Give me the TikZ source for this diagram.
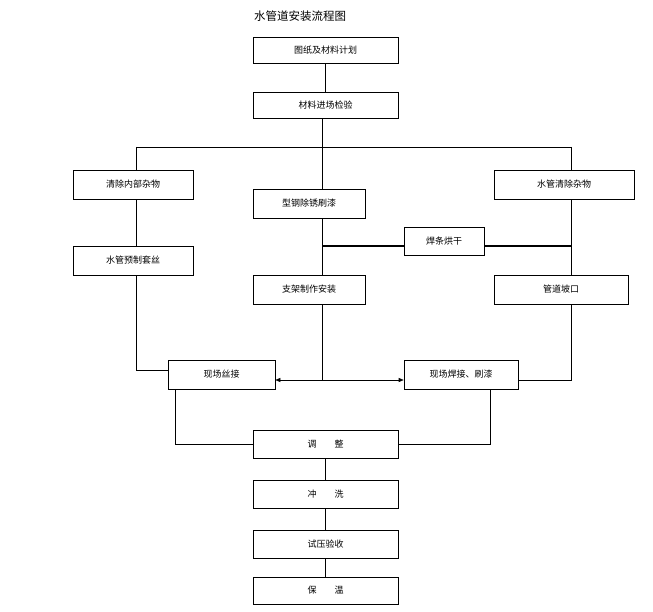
\documentclass[tikz,border=0pt]{standalone}
\usepackage{fontspec}
\newfontfamily\cjk{Noto Sans CJK SC}
\usetikzlibrary{arrows.meta}
\begin{document}
\begin{tikzpicture}[x=1pt,y=-1pt,
  box/.style={draw,line width=0.6pt,inner sep=0pt,font=\cjk\fontsize{9}{11}\selectfont},
  ln/.style={line width=0.6pt}]
\useasboundingbox (0,0) rectangle (653,612);
\newcommand\bx[6]{\node[box,minimum width=#4-#2,minimum height=#5-#3] (#1) at ({(#2+#4)/2},{(#3+#5)/2}) {#6};}
\node[font=\cjk\fontsize{11.5}{13}\selectfont] (title) at (300,16) {水管道安装流程图};
\bx{a}{253}{37}{398}{63}{图纸及材料计划}
\bx{b}{253}{92}{398}{118}{材料进场检验}
\bx{c}{73}{170}{193}{199}{清除内部杂物}
\bx{d}{494}{170}{634}{199}{水管清除杂物}
\bx{e}{253}{189}{365}{218}{型钢除锈刷漆}
\bx{f}{404}{227}{484}{255}{焊条烘干}
\bx{g}{73}{246}{193}{275}{水管预制套丝}
\bx{h}{253}{275}{365}{304}{支架制作安装}
\bx{i}{494}{275}{628}{304}{管道坡口}
\bx{j}{168}{360}{275}{389}{现场丝接}
\bx{k}{404}{360}{518}{389}{现场焊接、刷漆}
\bx{l}{253}{430}{398}{458}{调\hspace{2em}整}
\bx{m}{253}{480}{398}{508}{冲\hspace{2em}洗}
\bx{n}{253}{530}{398}{558}{试压验收}
\bx{o}{253}{577}{398}{604}{保\hspace{2em}温}
\coordinate (L) at (136,147); \coordinate (R) at (571,147);
\coordinate (M) at (322,147); \coordinate (Mw) at (322,246);
\coordinate (Rw) at (571,246); \coordinate (Mj) at (322,380);
\draw[ln] (a) -- (b);
\draw[ln] (b.south -| M) -- (M) (L) -- (R);
\draw[ln] (L) -- (c.north -| L);
\draw[ln] (R) -- (d.north -| R);
\draw[ln] (M) -- (e.north -| M);
\draw[ln] (c.south -| L) -- (g.north -| L);
\draw[ln] (e.south -| M) -- (h.north -| M);
\draw[ln] (d.south -| R) -- (i.north -| R);
\draw[line width=1.2pt] (Mw) -- (f.west |- Mw) (f.east |- Rw) -- (Rw);
\draw[ln] (g.south -| L) |- (j.west |- 0,370);
\draw[ln] (i.south -| R) |- (k.east |- 0,380);
\draw[ln] (h.south -| M) -- (Mj);
\draw[ln,{Triangle[length=5pt,width=4pt]}-{Triangle[length=5pt,width=4pt]}] (j.east |- Mj) -- (k.west |- Mj);
\draw[ln] (j.south -| 175,0) |- (l.west);
\draw[ln] (k.south -| 490,0) |- (l.east);
\draw[ln] (l) -- (m); \draw[ln] (m) -- (n); \draw[ln] (n) -- (o);
\end{tikzpicture}
\end{document}
